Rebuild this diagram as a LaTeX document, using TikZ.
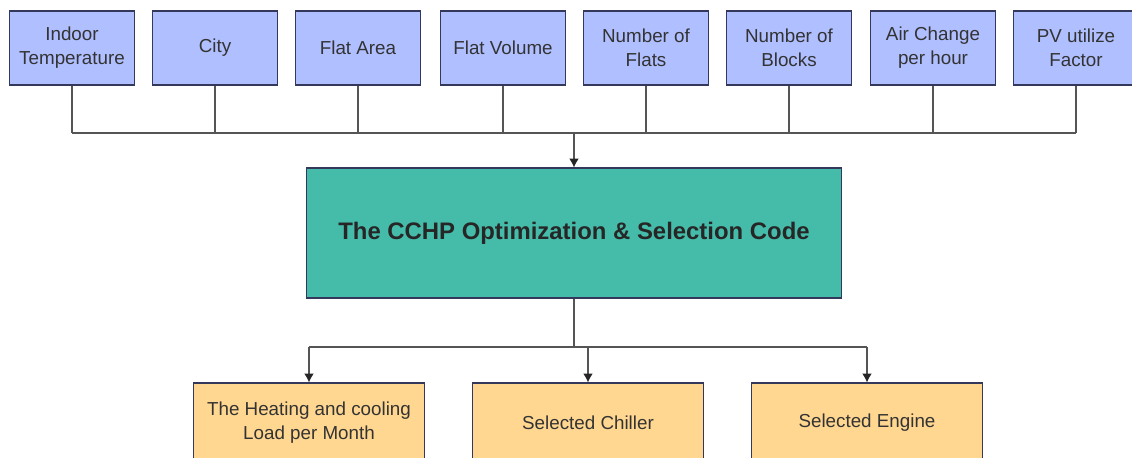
\documentclass[tikz,border=0pt]{standalone}
\usepackage{fontspec}
\setmainfont{Liberation Sans}
\usepackage{xcolor}
\usepackage{tikz}
\usetikzlibrary{arrows.meta,positioning,calc}
\definecolor{inblue}{HTML}{B0BFFF}
\definecolor{codeteal}{HTML}{45BCAA}
\definecolor{outorange}{HTML}{FFD791}
\definecolor{boxedge}{HTML}{34385A}
\definecolor{wire}{HTML}{555555}
\definecolor{txt}{HTML}{333333}
\tikzstyle{line} = [draw=wire, line width=0.8pt, -{Latex[length=5pt,width=5.5pt,color=black!85]}]
\tikzstyle{bus} = [draw=wire, line width=0.8pt]
\tikzstyle{inbox} = [draw=boxedge, line width=0.6pt, fill=inblue, text=txt, align=center, minimum width=2.5cm, minimum height=1.48cm, inner sep=1pt, font=\fontsize{10.7}{13.6}\selectfont]
\tikzstyle{outbox} = [draw=boxedge, line width=0.6pt, fill=outorange, text=txt, align=center, minimum width=4.62cm, minimum height=1.6cm, inner sep=1pt, font=\fontsize{10.7}{13.6}\selectfont]
\tikzstyle{codebox} = [draw=boxedge, line width=0.6pt, fill=codeteal, text=black!85, minimum width=10.72cm, minimum height=2.6cm, font=\fontsize{13.6}{16}\selectfont\bfseries]
\begin{document}
\begin{tikzpicture}[x=0.02cm,y=-0.02cm]
	\useasboundingbox (0,0) rectangle (1132,457);
	% input boxes
	\node[inbox] (temp)   at (72,48)   {Indoor\\Temperature};
	\node[inbox] (city)   at (215,48)  {City};
	\node[inbox] (area)   at (358,48)  {Flat Area};
	\node[inbox] (volume) at (503,48)  {Flat Volume};
	\node[inbox] (flats)  at (646,48)  {Number of\\Flats};
	\node[inbox] (blocks) at (789,48)  {Number of\\Blocks};
	\node[inbox] (ach)    at (933,48)  {Air Change\\per hour};
	\node[inbox] (pv)     at (1076,48) {PV utilize\\Factor};
	% main code box
	\node[codebox] (code) at (574,233) {The CCHP Optimization \& Selection Code};
	% output boxes
	\node[outbox] (load)    at (309,423) {The Heating and cooling\\Load per Month};
	\node[outbox] (chiller) at (588,423) {Selected Chiller};
	\node[outbox] (engine)  at (867,423) {Selected Engine};
	% collector bus
	\coordinate (inbus) at (574,133);
	\draw[bus] (temp.south) -- (temp.south |- inbus);
	\draw[bus] (city.south) -- (city.south |- inbus);
	\draw[bus] (area.south) -- (area.south |- inbus);
	\draw[bus] (volume.south) -- (volume.south |- inbus);
	\draw[bus] (flats.south) -- (flats.south |- inbus);
	\draw[bus] (blocks.south) -- (blocks.south |- inbus);
	\draw[bus] (ach.south) -- (ach.south |- inbus);
	\draw[bus] (pv.south) -- (pv.south |- inbus);
	\draw[bus] (temp.south |- inbus) -- (pv.south |- inbus); % horizontal bus
	\draw[line] (inbus) -- (code.north); % into code
	% distribution bus
	\coordinate (outbus) at (574,347);
	\draw[bus] (code.south) -- (outbus);
	\draw[bus] (load.north |- outbus) -- (engine.north |- outbus);
	\draw[line] (load.north |- outbus) -- (load.north);
	\draw[line] (chiller.north |- outbus) -- (chiller.north);
	\draw[line] (engine.north |- outbus) -- (engine.north);
\end{tikzpicture}
\end{document}
